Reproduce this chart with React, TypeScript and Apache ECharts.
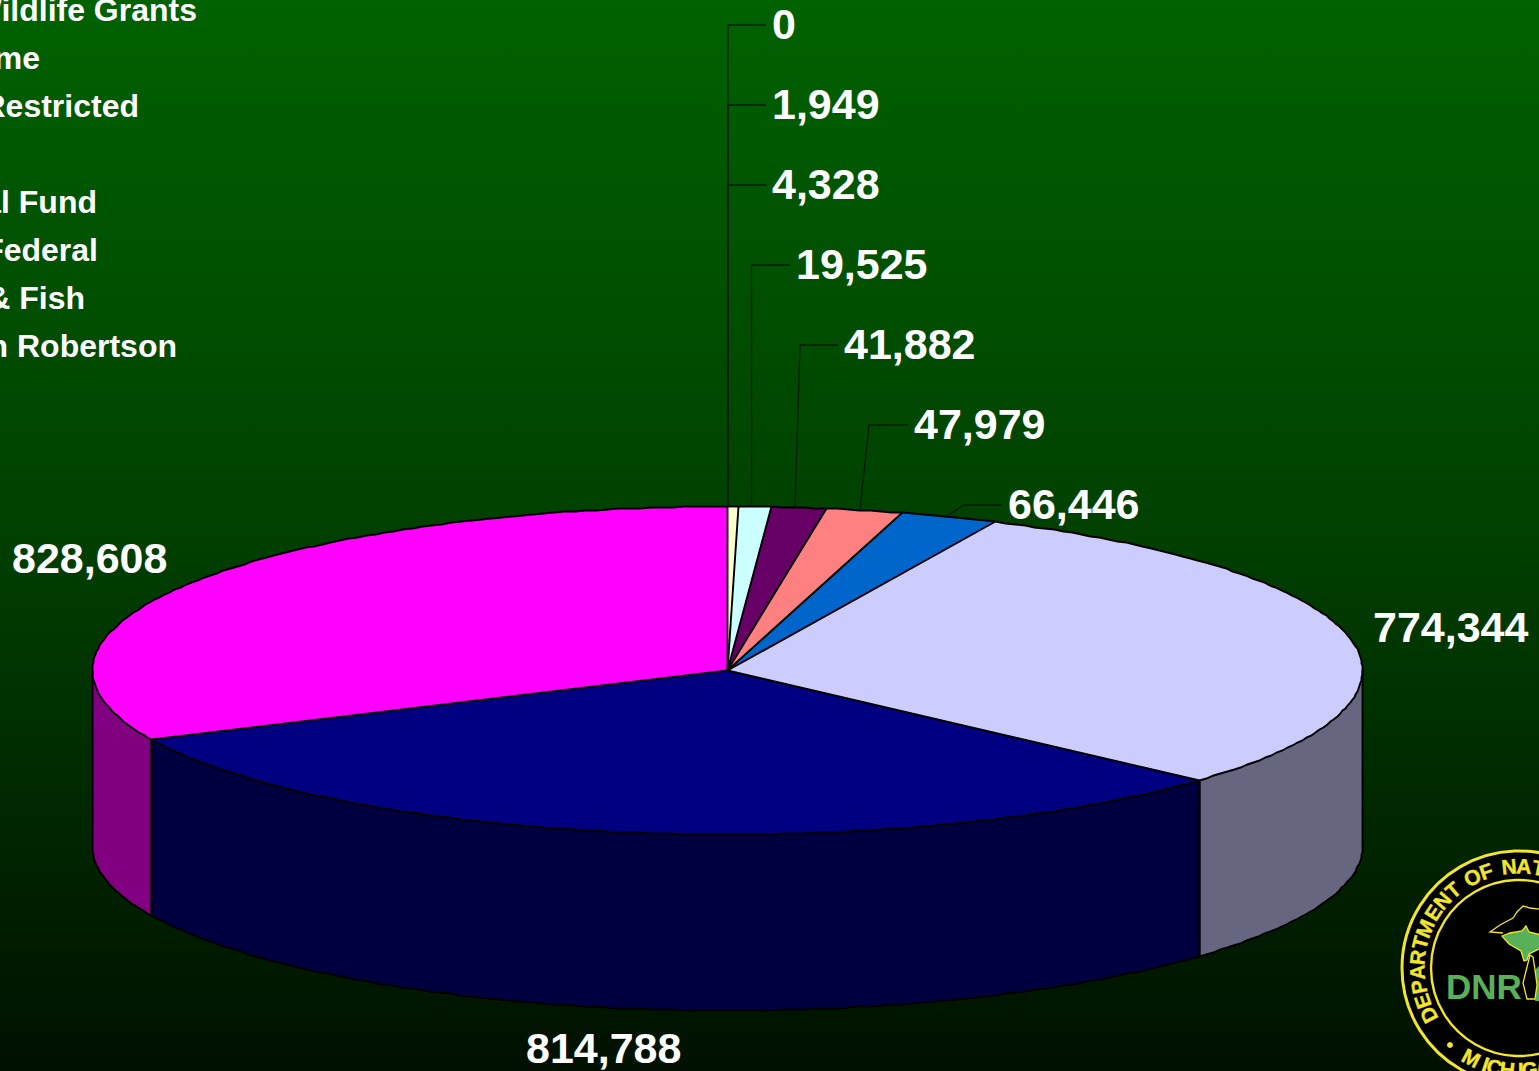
import React, { useEffect, useRef } from "react";
import * as echarts from "echarts";

const values = [0, 1949, 4328, 19525, 41882, 47979, 66446, 774344, 814788, 828608];
const valueLabels = ["0", "1,949", "4,328", "19,525", "41,882", "47,979", "66,446", "774,344", "814,788", "828,608"];
const legendLabels = ["Wildlife Grants", "me", "Restricted", "al Fund", "Federal", "& Fish", "n Robertson"];

const topColors = ["#FFFFCC", "#FFFFCC", "#FFFFCC", "#CCFFFF", "#660066", "#FF8080", "#0066CC", "#CCCCFF", "#000080", "#FF00FF"];
const sideColors = ["#808066", "#808066", "#808066", "#668080", "#330033", "#804040", "#003366", "#666680", "#000040", "#800080"];

const W = 1539;
const H = 1071;
const FONT = '"Liberation Sans", Arial, sans-serif';
const CX = 727.5;
const CY = 670.5;
const RX = 635;
const RY = 164;
const DEPTH = 176;
const total = values.reduce((a, b) => a + b, 0);
const cumulative: number[] = [];
values.reduce((acc, v, i) => {
  cumulative[i] = acc;
  return acc + v;
}, 0);

// layout of the value labels: text left, text centre y, elbow x, x where the leader meets the rim
const labelLayout: { x: number; y: number; elbow?: number; rimX?: number }[] = [
  { x: 772, y: 24, elbow: 728, rimX: 728 },
  { x: 772, y: 104, elbow: 728, rimX: 728 },
  { x: 772, y: 184, elbow: 728, rimX: 728 },
  { x: 796, y: 264, elbow: 751.5, rimX: 751.5 },
  { x: 844, y: 344, elbow: 800, rimX: 795 },
  { x: 914, y: 424, elbow: 869, rimX: 860 },
  { x: 1008, y: 504, elbow: 964, rimX: 946 },
  { x: 1373, y: 627 },
  { x: 526, y: 1048 },
  { x: 12, y: 558 },
];

// the source chart snaps slice edges to whole degrees
const toAngle = (v: number) => {
  const deg = echarts.number.linearMap(v, [0, total], [0, 360]);
  return (Math.round(deg) * Math.PI) / 180;
};
const rim = (a: number, drop = 0): number[] => [
  Math.floor(CX + RX * Math.sin(a)) + 0.5,
  Math.floor(CY - RY * Math.cos(a) + drop) + 0.5,
];
const arc = (a0: number, a1: number, drop = 0): number[][] => {
  const n = Math.max(1, Math.ceil(((a1 - a0) * 180) / Math.PI));
  const pts: number[][] = [];
  for (let i = 0; i <= n; i++) pts.push(rim(a0 + ((a1 - a0) * i) / n, drop));
  return pts;
};

const LINE = 1.9;
const black = (points: number[][], w = LINE) => ({
  type: "polyline",
  shape: { points },
  style: { fill: "none", stroke: "#000", lineWidth: w },
});

function renderFill(params: any, api: any) {
  const i = params.dataIndex;
  const v = api.value(0);
  const a0 = toAngle(cumulative[i]);
  const a1 = toAngle(cumulative[i] + v);
  if (a1 <= a0) return { type: "group", children: [] };
  const children: any[] = [
    {
      type: "polygon",
      shape: { points: [[CX, CY], ...arc(a0, a1)] },
      style: { fill: topColors[i], stroke: topColors[i], lineWidth: 0.5 },
    },
  ];
  const s0 = Math.max(a0, Math.PI / 2);
  const s1 = Math.min(a1, (Math.PI * 3) / 2);
  if (s1 > s0) {
    children.push({
      type: "polygon",
      shape: { points: [...arc(s0, s1), ...arc(s0, s1, DEPTH).reverse()] },
      style: { fill: sideColors[i], stroke: sideColors[i], lineWidth: 0.5 },
    });
  }
  return { type: "group", children };
}

function renderOutline(params: any, api: any) {
  const i = params.dataIndex;
  const v = api.value(0);
  const a0 = toAngle(cumulative[i]);
  const a1 = toAngle(cumulative[i] + v);
  const children: any[] = [];
  const prevColor = topColors[(i + values.length - 1) % values.length];
  if (prevColor !== topColors[i]) children.push(black([[CX, CY], rim(a0)]));
  if (a1 > a0) children.push(black(arc(a0, a1)));
  const s0 = Math.max(a0, Math.PI / 2);
  const s1 = Math.min(a1, (Math.PI * 3) / 2);
  if (s1 > s0) {
    children.push(black(arc(s0, s1, DEPTH)));
    children.push(black([rim(s0), rim(s0, DEPTH)]));
    children.push(black([rim(s1), rim(s1, DEPTH)]));
  }
  const lay = labelLayout[i];
  if (lay.elbow !== undefined && lay.rimX !== undefined) {
    const dx = (lay.rimX - CX) / RX;
    const rimY = CY - RY * Math.sqrt(1 - dx * dx);
    children.push({
      type: "polyline",
      shape: { points: [[lay.x - 6, lay.y + 1], [lay.elbow, lay.y + 1], [lay.rimX, rimY]] },
      style: { fill: "none", stroke: "#021a02", lineWidth: 1.3 },
    });
  }
  children.push({
    type: "text",
    x: lay.x,
    y: lay.y,
    style: {
      text: valueLabels[i],
      fill: "#fff",
      font: `bold 43px ${FONT}`,
      align: "left",
      verticalAlign: "middle",
    },
  });
  return { type: "group", children };
}

const legendRightEdges = [197, 40, 139, 97, 98, 85, 177];
const legendYs = [10, 58, 106, 202, 250, 298, 346];

const legendGraphics = legendLabels.map((t, i) => ({
  type: "text",
  x: legendRightEdges[i],
  y: legendYs[i],
  style: { text: t, fill: "#fff", font: `bold 32px ${FONT}`, align: "right", verticalAlign: "middle" },
}));

// seal of the department
const SX = 1519;
const SY = 968;
const YEL = "#F2E52E";
const GRN = "#58B058";
const letterStyle = (c: string) => ({
  text: c,
  fill: YEL,
  stroke: YEL,
  lineWidth: 0.4,
  font: `bold 21px ${FONT}`,
  align: "center",
  verticalAlign: "middle",
});
const arcLetters = (text: string, startDeg: number) => {
  const widths = (c: string) => (c === " " ? 0.4 : c === "I" ? 0.35 : c === "M" ? 0.85 : 0.7);
  let d = startDeg;
  const out: any[] = [];
  for (const c of text) {
    const w = (widths(c) * 21.3 * 180) / (Math.PI * 102);
    if (c !== " ") {
      const r = (d * Math.PI) / 180;
      out.push({
        type: "text",
        x: SX + 102 * Math.sin(r),
        y: SY - 102 * Math.cos(r),
        rotation: -r,
        style: letterStyle(c),
      });
    }
    d += w;
  }
  return out;
};
const bottomLetters = (text: string, startDeg: number) => {
  let d = startDeg;
  const out: any[] = [];
  for (const c of text) {
    const r = (d * Math.PI) / 180;
    out.push({
      type: "text",
      x: SX - 102 * Math.sin(r),
      y: SY + 102 * Math.cos(r),
      rotation: -r,
      style: letterStyle(c),
    });
    d -= c === "M" ? 9 : c === "I" ? 5 : 7.5;
  }
  return out;
};

const upperShore = [
  [1503, 933], [1490, 932], [1500, 925], [1513, 918], [1517, 912], [1523, 906], [1530, 908], [1545, 910],
];
const northernLower = [
  [1502, 936], [1510, 933], [1522, 931], [1526, 926], [1529, 932], [1545, 936],
  [1545, 946], [1529, 954], [1527, 960], [1524, 961], [1521, 951], [1509, 944],
];
const lake = [
  [1530, 955], [1527, 967], [1523, 983], [1527, 999], [1535, 999], [1537, 985], [1535, 970], [1533, 957],
];
const lowerRight = [[1535, 970], [1537, 985], [1535, 1001], [1545, 1001], [1545, 960]];

const sealGraphics: any[] = [
  { type: "circle", shape: { cx: SX, cy: SY, r: 117 }, style: { fill: "#000", stroke: YEL, lineWidth: 3 } },
  { type: "circle", shape: { cx: SX, cy: SY, r: 88 }, style: { fill: "#000", stroke: YEL, lineWidth: 2.4 } },
  ...arcLetters("DEPARTMENT OF NAT", -117.5),
  ...bottomLetters("MICHIGAN", 28),
  { type: "circle", shape: { cx: 1450, cy: 1045, r: 3 }, style: { fill: YEL } },
  { type: "polyline", shape: { points: upperShore }, style: { fill: "none", stroke: YEL, lineWidth: 1.3 } },
  { type: "polygon", shape: { points: northernLower }, style: { fill: GRN, stroke: YEL, lineWidth: 1.3 } },
  { type: "polygon", shape: { points: lowerRight }, style: { fill: GRN } },
  { type: "polygon", shape: { points: lake }, style: { fill: "#000", stroke: YEL, lineWidth: 1.3 } },
  {
    type: "text",
    x: 1446,
    y: 986,
    style: { text: "DNR", fill: GRN, font: `bold 35px ${FONT}`, align: "left", verticalAlign: "middle" },
  },
];

export default function App() {
  const ref = useRef<HTMLDivElement>(null);
  useEffect(() => {
    document.body.style.margin = "0";
    document.body.style.overflow = "hidden";
    const chart = echarts.init(ref.current!, undefined, { renderer: "svg" });
    chart.setOption({
      animation: false,
      backgroundColor: new echarts.graphic.LinearGradient(0, 0, 0, 1, [
        { offset: 0, color: "#006200" },
        { offset: 0.5, color: "#004000" },
        { offset: 1, color: "#001000" },
      ]),
      graphic: { elements: [...legendGraphics, ...sealGraphics] },
      series: [
        {
          type: "custom",
          name: "fill",
          coordinateSystem: "none",
          silent: true,
          clip: false,
          z: 1,
          data: values,
          renderItem: renderFill,
        },
        {
          type: "custom",
          name: "outline",
          coordinateSystem: "none",
          silent: true,
          clip: false,
          z: 2,
          data: values,
          renderItem: renderOutline,
        },
      ],
    });
    return () => chart.dispose();
  }, []);
  return <div ref={ref} style={{ width: W, height: H }} />;
}
